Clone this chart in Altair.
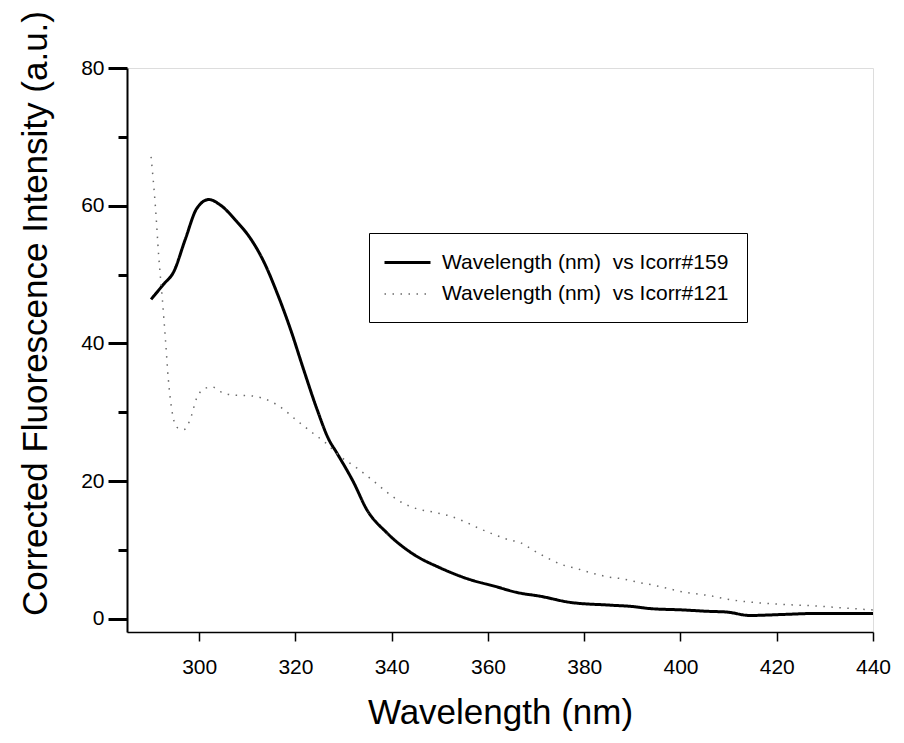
import altair as alt
import pandas as pd

# ---- data ----
wl_159 = [290.0, 292.6, 294.7, 297.1, 299.5, 302.0, 304.4, 307.8, 310.6, 313.4,
          316.2, 319.0, 321.7, 324.5, 326.9, 328.6, 332.1, 334.8, 339.0, 344.5,
          350.1, 356.3, 361.1, 366.3, 370.8, 377.1, 385.4, 390.0, 393.7, 400.6,
          405.8, 409.6, 414.4, 421.4, 428.3, 440.0]
i_159 = [46.4, 48.6, 50.4, 55.1, 59.6, 60.9, 60.1, 57.7, 55.3, 51.9,
         47.3, 42.0, 36.2, 30.4, 26.1, 24.1, 19.8, 15.9, 12.5, 9.4,
         7.4, 5.7, 4.8, 3.8, 3.3, 2.4, 2.0, 1.8, 1.5, 1.3,
         1.1, 1.0, 0.5, 0.65, 0.8, 0.8]

wl_121 = [290.0, 290.9, 291.6, 292.3, 293.0, 293.6, 294.3, 295.4, 296.8, 298.1,
          299.5, 301.3, 302.7, 304.4, 307.1, 310.6, 313.4, 316.8, 320.3, 323.4,
          326.2, 329.3, 332.8, 335.9, 339.0, 342.1, 345.2, 348.7, 351.8, 354.9,
          358.0, 361.1, 364.3, 367.0, 369.1, 372.2, 375.3, 378.5, 381.9, 385.0,
          388.1, 391.3, 394.4, 397.5, 400.6, 403.7, 405.8, 410.3, 415.1, 421.4,
          427.6, 433.8, 440.0]
i_121 = [67.1, 59.9, 52.6, 46.8, 40.5, 34.7, 30.4, 27.8, 27.5, 28.9,
         32.1, 33.5, 33.7, 33.0, 32.5, 32.4, 32.0, 30.8, 28.8, 27.1,
         25.6, 23.6, 21.9, 20.2, 18.4, 16.9, 16.0, 15.5, 15.0, 14.2,
         13.2, 12.3, 11.5, 11.0, 10.1, 8.9, 7.9, 7.3, 6.6, 6.1,
         5.8, 5.3, 4.9, 4.4, 3.9, 3.6, 3.4, 2.8, 2.4, 2.1,
         1.9, 1.6, 1.3]

series_labels = ["Wavelength (nm)\u00a0 vs Icorr#159", "Wavelength (nm)\u00a0 vs Icorr#121"]
x_ticks = [300, 320, 340, 360, 380, 400, 420, 440]
y_major = [0, 20, 40, 60, 80]
y_minor = [10, 30, 50, 70]

df = pd.concat([
    pd.DataFrame({"wl": wl_159, "I": i_159, "series": series_labels[0], "order": range(len(wl_159))}),
    pd.DataFrame({"wl": wl_121, "I": i_121, "series": series_labels[1], "order": range(len(wl_121))}),
], ignore_index=True)

FONT = "Liberation Sans"

xscale = alt.Scale(domain=[285, 440], nice=False, zero=False)
yscale = alt.Scale(domain=[-1.9, 80], nice=False, zero=False)

legend = alt.Legend(
    title=None, orient="none", legendX=242, legendY=165,
    symbolType="M-2.3,0H2.3", symbolSize=400, symbolOffset=9,
    labelFont=FONT, labelFontSize=21,
    labelColor="black", labelOffset=23, labelLimit=500, padding=18, rowPadding=10,
    strokeColor="black", fillColor="white",
)

lines = alt.Chart(df).mark_line(interpolate="monotone", strokeCap="butt").encode(
    x=alt.X("wl:Q", scale=xscale, axis=alt.Axis(
        values=x_ticks, title="Wavelength (nm)", grid=False,
        domainColor="black", domainWidth=1.5, tickColor="black", tickWidth=1.5, tickSize=9,
        labelFont=FONT, labelFontSize=21, labelColor="black", labelPadding=15,
        labelFlush=False, labelOverlap=False,
        titleFont=FONT, titleFontSize=35, titleFontWeight="normal", titleColor="black",
        titleBaseline="alphabetic", titleY=91)),
    y=alt.Y("I:Q", scale=yscale, axis=alt.Axis(
        values=y_major, orient="left", title="Corrected Fluorescence Intensity (a.u.)", grid=False,
        domainColor="black", domainWidth=2, tickColor="black", tickWidth=3, tickSize=19,
        labelFont=FONT, labelFontSize=21, labelColor="black", labelPadding=4,
        titleFont=FONT, titleFontSize=35, titleFontWeight="normal", titleColor="black",
        titleAngle=270, titleAlign="center", titleBaseline="alphabetic",
        titleX=-81, titleY=245)),
    color=alt.Color("series:N", scale=alt.Scale(domain=series_labels, range=["black", "#6a6a6a"]), legend=legend),
    strokeDash=alt.StrokeDash("series:N", scale=alt.Scale(domain=series_labels, range=[[1, 0], [1.5, 6.5]]), legend=legend),
    strokeWidth=alt.StrokeWidth("series:N", scale=alt.Scale(domain=series_labels, range=[3, 1.5]), legend=legend),
    order="order:Q",
)

minor = alt.Chart(df).mark_point(opacity=0).encode(
    x=alt.X("wl:Q", scale=xscale, axis=None),
    y=alt.Y("I:Q", scale=yscale, axis=alt.Axis(
        values=y_minor, orient="left", labels=False, domain=False, grid=False,
        tickSize=9, tickWidth=3, tickColor="black", title=None)),
)

chart = alt.layer(lines, minor).resolve_scale(y="shared", x="shared").resolve_axis(
    y="independent", x="independent"
).properties(
    width=746, height=564,
    autosize=alt.AutoSizeParams(type="none"),
    padding={"left": 119, "top": 60, "right": 23, "bottom": 103},
).configure_view(stroke="#333333", strokeWidth=1.5).configure(background="white")

chart.save("out.html", embed_options={"renderer": "svg", "actions": False})
